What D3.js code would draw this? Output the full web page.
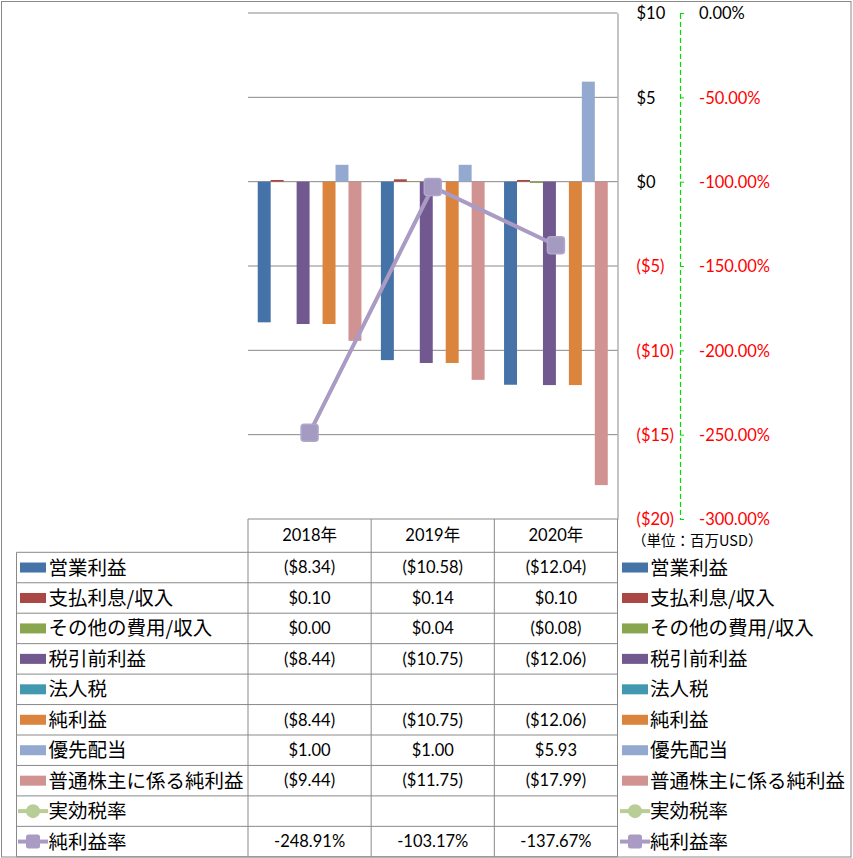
<!DOCTYPE html>
<html>
<head>
<meta charset="utf-8">
<script src="https://cdn.jsdelivr.net/npm/d3@7"></script>
<style>
  body { margin: 0; background: #fff; }
  .num { font-family: Lato, "Noto Sans CJK JP", sans-serif; font-size: 16.5px; }
  .jp { font-family: "Noto Sans CJK JP", sans-serif; font-size: 19.5px; }
</style>
</head>
<body>
<div id="chart"></div>
<script>
let years = ["2018年", "2019年", "2020年"];

// bar series (primary axis, millions USD)
let barNames = ["営業利益", "支払利息/収入", "その他の費用/収入", "税引前利益", "法人税", "純利益", "優先配当", "普通株主に係る純利益"];
let barColors = ["#4572A7", "#AA4643", "#89A54E", "#71588F", "#4198AF", "#DB843D", "#93A9CF", "#D19392"];
let operatingIncome = [-8.34, -10.58, -12.04];
let interestExp = [0.10, 0.14, 0.10];
let otherExp = [0.00, 0.04, -0.08];
let preTaxIncome = [-8.44, -10.75, -12.06];
let incomeTax = [null, null, null];
let netIncome = [-8.44, -10.75, -12.06];
let prefDividend = [1.00, 1.00, 5.93];
let netToCommon = [-9.44, -11.75, -17.99];

// line series (secondary axis, %)
let lineNames = ["実効税率", "純利益率"];
let lineColors = ["#B9CD96", "#A99BC3"];
let effTaxRate = [null, null, null];
let netMargin = [-248.91, -103.17, -137.67];

let yTicks = [-20, -15, -10, -5, 0, 5, 10];
let y2Ticks = [-300, -250, -200, -150, -100, -50, 0];

let barValues = [operatingIncome, interestExp, otherExp, preTaxIncome, incomeTax, netIncome, prefDividend, netToCommon];
let lineValues = [effTaxRate, netMargin];

let width = 853, height = 858;
let plotLeft = 248, plotRight = 617.5, plotTop = 13, plotBottom = 519;
let rowTop = 552.3, rowH = 30.45, labelLeft = 16.5;
let gridColor = "#898989";

let svg = d3.select("#chart").append("svg")
  .attr("width", width)
  .attr("height", height);

let x = d3.scaleBand().domain(years).range([plotLeft, plotRight]);
let barW = x.bandwidth() / (barNames.length + 1.5);
let x1 = d3.scaleBand().domain(barNames)
  .range([barW * 0.75, barW * 0.75 + barW * barNames.length]);
let y = d3.scaleLinear().domain([-20, 10]).range([plotBottom, plotTop]);
let y2 = d3.scaleLinear().domain([-300, 0]).range([plotBottom, plotTop]);

function money(v) {
  if (v == null) return "";
  return v < 0 ? "($" + (-v).toFixed(2) + ")" : "$" + v.toFixed(2);
}
function pct(v) {
  return v == null ? "" : v.toFixed(2) + "%";
}

// gridlines
svg.append("g")
  .selectAll("line")
  .data(yTicks.filter(t => t > -20))
  .enter().append("line")
  .attr("x1", plotLeft).attr("x2", plotRight)
  .attr("y1", d => y(d)).attr("y2", d => y(d))
  .attr("stroke", gridColor).attr("stroke-width", 1);

// bars
let barData = [];
barNames.forEach((name, i) => {
  years.forEach((yr, j) => {
    if (barValues[i][j] != null) barData.push({ name: name, year: yr, value: barValues[i][j], color: barColors[i] });
  });
});
svg.append("g")
  .selectAll("rect")
  .data(barData)
  .enter().append("rect")
  .attr("x", d => x(d.year) + x1(d.name))
  .attr("width", x1.bandwidth())
  .attr("y", d => y(Math.max(0, d.value)))
  .attr("height", d => Math.abs(y(d.value) - y(0)))
  .attr("fill", d => d.color);

// primary axis on the right
let yAxis = d3.axisRight(y)
  .tickValues(yTicks)
  .tickSize(0)
  .tickPadding(19)
  .tickFormat(v => v < 0 ? "($" + (-v) + ")" : "$" + v);
let yAxisG = svg.append("g")
  .attr("transform", "translate(" + plotRight + ",0)")
  .call(yAxis);
yAxisG.select(".domain").attr("stroke", gridColor);
yAxisG.selectAll("text")
  .attr("class", "num")
  .attr("fill", d => d < 0 ? "#FF0000" : "#000")
  .attr("dy", "0.35em");

// secondary axis (green dashed)
let y2Axis = d3.axisRight(y2)
  .tickValues(y2Ticks)
  .tickSize(4)
  .tickPadding(15)
  .tickFormat(v => v.toFixed(2) + "%");
let y2AxisG = svg.append("g")
  .attr("transform", "translate(680,0)")
  .call(y2Axis);
y2AxisG.select(".domain").attr("stroke", "#00E000").attr("stroke-dasharray", "5,3").attr("stroke-width", 1.2);
y2AxisG.selectAll(".tick line").attr("stroke", "#00E000");
y2AxisG.selectAll("text")
  .attr("class", "num")
  .attr("fill", d => d < 0 ? "#FF0000" : "#000")
  .attr("dy", "0.35em");

// lines
lineValues.forEach((vals, i) => {
  let pts = years.map((yr, j) => ({ year: yr, value: vals[j] })).filter(d => d.value != null);
  if (!pts.length) return;
  let line = d3.line()
    .x(d => x(d.year) + x.bandwidth() / 2)
    .y(d => y2(d.value));
  svg.append("path")
    .datum(pts)
    .attr("d", line)
    .attr("fill", "none")
    .attr("stroke", lineColors[i])
    .attr("stroke-width", 4);
  svg.append("g")
    .selectAll("rect")
    .data(pts)
    .enter().append("rect")
    .attr("x", d => x(d.year) + x.bandwidth() / 2 - 8.5)
    .attr("y", d => y2(d.value) - 8.5)
    .attr("width", 17).attr("height", 17)
    .attr("rx", 3)
    .attr("fill", "#A59AC2")
    .attr("stroke", "#B1A7CB")
    .attr("stroke-width", 1.5);
});

// unit label
svg.append("text")
  .attr("x", 632).attr("y", 541)
  .attr("dy", "0.35em")
  .style("font-family", "'Noto Sans CJK JP', sans-serif")
  .style("font-size", "14.5px")
  .text("（単位：百万USD）");

// data table
let rows = barNames.map((n, i) => ({ name: n, color: barColors[i], type: "bar", text: barValues[i].map(money) }))
  .concat(lineNames.map((n, i) => ({ name: n, color: lineColors[i], type: "line", marker: i == 0 ? "circle" : "square", text: lineValues[i].map(pct) })));
let tableBottom = rowTop + rowH * rows.length;
let tbl = svg.append("g").attr("stroke", gridColor).attr("stroke-width", 1);

// header top line and column lines
tbl.append("line").attr("x1", plotLeft).attr("x2", plotRight).attr("y1", plotBottom).attr("y2", plotBottom);
[plotLeft].concat(years.map(yr => x(yr) + x.bandwidth())).forEach(cx => {
  tbl.append("line").attr("x1", cx).attr("x2", cx).attr("y1", plotBottom).attr("y2", tableBottom);
});
tbl.append("line").attr("x1", labelLeft).attr("x2", labelLeft).attr("y1", rowTop).attr("y2", tableBottom);
d3.range(rows.length + 1).forEach(k => {
  let ry = rowTop + k * rowH;
  tbl.append("line").attr("x1", labelLeft).attr("x2", plotRight).attr("y1", ry).attr("y2", ry);
});

// header
svg.append("g")
  .selectAll("text")
  .data(years)
  .enter().append("text")
  .attr("class", "num")
  .attr("x", d => x(d) + x.bandwidth() / 2)
  .attr("y", (plotBottom + rowTop) / 2)
  .attr("dy", "0.35em")
  .attr("text-anchor", "middle")
  .text(d => d);

function drawKey(g, r, kx, ky) {
  if (r.type == "bar") {
    g.append("rect").attr("x", kx).attr("y", ky - 5).attr("width", 26).attr("height", 10).attr("fill", r.color);
  } else {
    g.append("line").attr("x1", kx - 2).attr("x2", kx + 28).attr("y1", ky).attr("y2", ky)
      .attr("stroke", r.color).attr("stroke-width", 4);
    if (r.marker == "circle") {
      g.append("circle").attr("cx", kx + 13).attr("cy", ky).attr("r", 7).attr("fill", r.color);
    } else {
      g.append("rect").attr("x", kx + 6).attr("y", ky - 7).attr("width", 14).attr("height", 14)
        .attr("rx", 2.5).attr("fill", r.color);
    }
  }
}

rows.forEach((r, i) => {
  let cy = rowTop + rowH * i + rowH / 2;
  let g = svg.append("g");
  // row label with key
  drawKey(g, r, 20, cy);
  g.append("text").attr("class", "jp").attr("x", 48.5).attr("y", cy).attr("dy", "0.36em").text(r.name);
  // values
  r.text.forEach((t, j) => {
    g.append("text").attr("class", "num")
      .attr("x", x(years[j]) + x.bandwidth() / 2).attr("y", cy).attr("dy", "0.35em")
      .attr("text-anchor", "middle").text(t);
  });
  // legend on the right
  drawKey(g, r, 622, cy);
  g.append("text").attr("class", "jp").attr("x", 650).attr("y", cy).attr("dy", "0.36em").text(r.name);
});

// outer frame
svg.append("rect")
  .attr("x", 1.5).attr("y", 1.5)
  .attr("width", width - 3.5).attr("height", height - 2.5)
  .attr("fill", "none").attr("stroke", gridColor).attr("stroke-width", 1);
</script>
</body>
</html>
